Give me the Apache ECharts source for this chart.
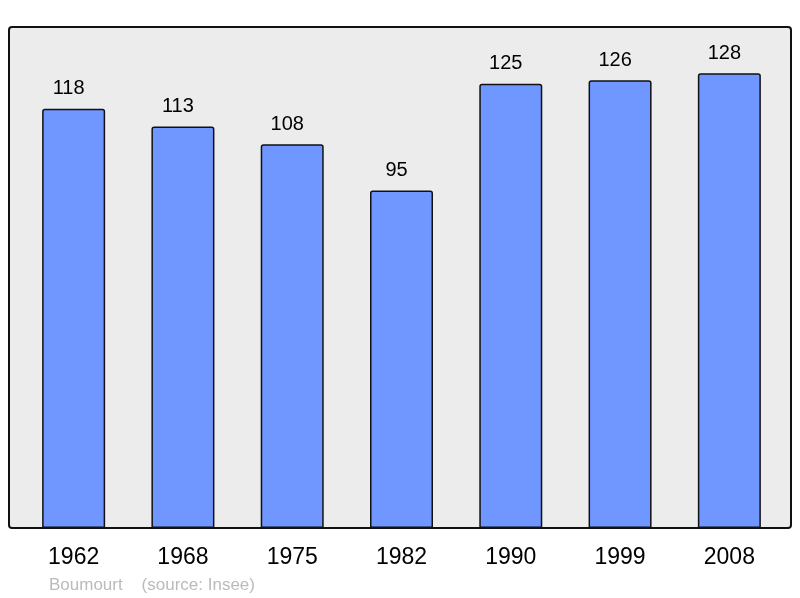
<!DOCTYPE html>
<html>
<head>
<meta charset="utf-8">
<script src="https://cdn.jsdelivr.net/npm/echarts@6/dist/echarts.min.js"></script>
<style>
  html, body { margin: 0; padding: 0; background: #fff; }
  #chart { width: 800px; height: 598px; }
</style>
</head>
<body>
<div id="chart"></div>
<script>
// population par recensement
var years = ['1962', '1968', '1975', '1982', '1990', '1999', '2008'];
var population = [118, 113, 108, 95, 125, 126, 128];

var chart = echarts.init(document.getElementById('chart'), null, { renderer: 'canvas' });

var option = {
  animation: false,
  textStyle: { fontFamily: 'Liberation Sans, Arial, sans-serif' },
  graphic: [
    {
      type: 'rect',
      z: -1,
      shape: { x: 9, y: 27, width: 782, height: 501, r: 3 },
      style: { fill: '#ececec', stroke: '#111', lineWidth: 2 }
    },
    {
      type: 'text',
      left: 49,
      top: 577,
      style: {
        text: 'Boumourt    (source: Insee)',
        fill: '#bbbbbb',
        font: '17px Liberation Sans, Arial, sans-serif'
      }
    }
  ],
  grid: { left: 19, right: 16, top: 27, bottom: 70 },
  xAxis: {
    type: 'category',
    data: years,
    axisLine: { show: false },
    axisTick: { show: false },
    axisLabel: { color: '#000', fontSize: 23, margin: 18 }
  },
  yAxis: {
    type: 'value',
    min: 0,
    max: 141,
    show: false,
    splitLine: { show: false }
  },
  series: [
    {
      type: 'bar',
      data: population,
      barWidth: 63,
      itemStyle: {
        color: '#7096ff',
        borderColor: '#111',
        borderWidth: 1.5,
        borderRadius: [2, 2, 0, 0]
      },
      label: {
        show: true,
        position: 'top',
        distance: 10,
        offset: [-5, 0],
        color: '#000',
        fontSize: 20
      }
    }
  ]
};

chart.setOption(option);
</script>
</body>
</html>
